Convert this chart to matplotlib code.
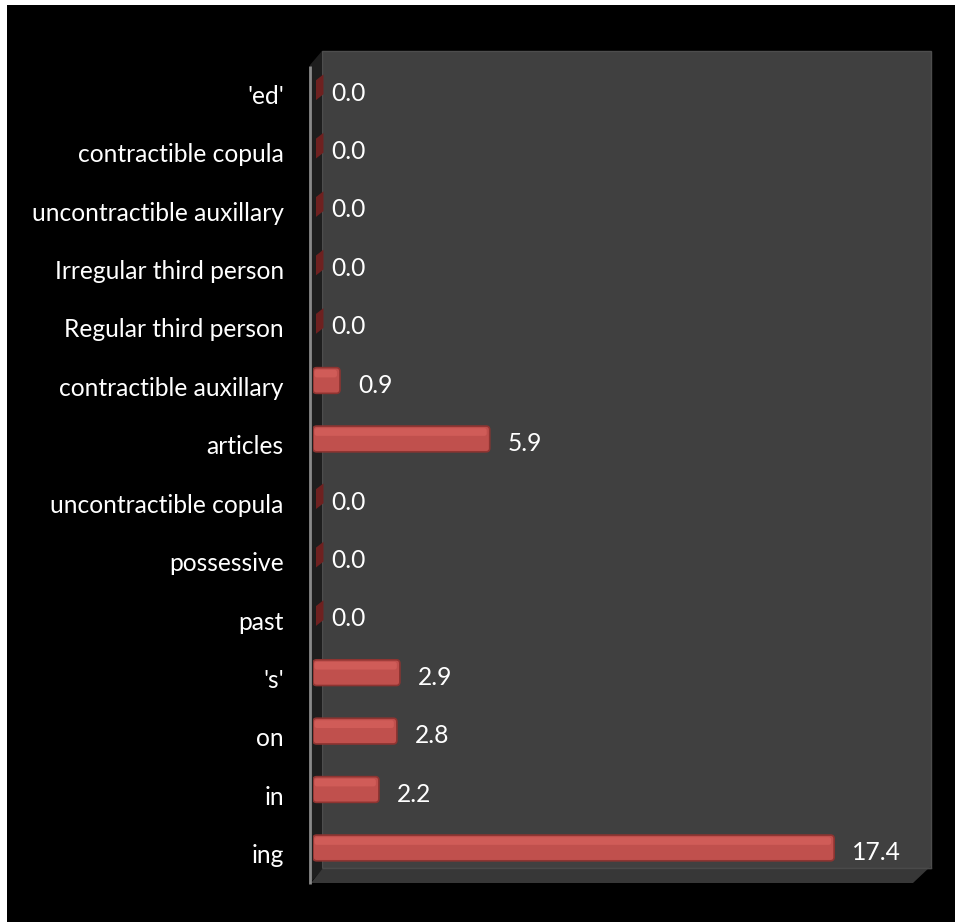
import matplotlib
matplotlib.use("Agg")
import matplotlib.pyplot as plt
from matplotlib.patches import Polygon, Rectangle, FancyBboxPatch

categories = ["ing", "in", "on", "'s'", "past", "possessive", "uncontractible copula",
              "articles", "contractible auxillary", "Regular third person",
              "Irregular third person", "uncontractible auxillary", "contractible copula", "'ed'"]
values = [17.4, 2.2, 2.8, 2.9, 0.0, 0.0, 0.0, 5.9, 0.9, 0.0, 0.0, 0.0, 0.0, 0.0]

W, H = 957, 922
fig = plt.figure(figsize=(W / 100, H / 100), dpi=100, facecolor="white")

# background axes in pixel coordinates
bg = fig.add_axes([0, 0, 1, 1])
bg.set_xlim(0, W)
bg.set_ylim(H, 0)
bg.axis("off")
bg.add_patch(Rectangle((7, 5), 948, 920, facecolor="black", edgecolor="none"))
# back wall
bg.add_patch(Rectangle((322, 51), 609, 817, facecolor="#404040", edgecolor="#4d4d4d", lw=1))
# left wall
bg.add_patch(Polygon([(310, 65), (322, 51), (322, 870), (310, 883)], closed=True,
                     facecolor="#1e1e1e", edgecolor="none"))
bg.plot([310, 310], [66, 884], color="#8a8a8a", lw=2, solid_capstyle="butt")
# floor
bg.add_patch(Polygon([(311, 883), (323, 868), (931, 868), (931, 866), (913, 883)], closed=True,
                     facecolor="#373737", edgecolor="none"))
bg.plot([323, 931], [868, 868], color="#4a4a4a", lw=1)

# data axes (front plane)
ax = fig.add_axes([313 / W, (H - 883) / H, 599 / W, 818 / H])
ax.set_facecolor("none")
ax.set_xlim(0, 20)
ax.set_ylim(-0.5, len(categories) - 0.5)
for s in ax.spines.values():
    s.set_visible(False)
ax.set_xticks([])
ypos = list(range(len(categories)))
ax.set_yticks(ypos)
ax.set_yticklabels(categories)
ax.tick_params(axis="y", length=0, pad=21, labelcolor="white", labelsize=17.7)
for lab in ax.get_yticklabels():
    lab.set_fontfamily("Lato")

bh = 0.44
lift = 0.1
aspect = 30.0 / 58.46
for y, v in zip(ypos, values):
    yb = y + lift
    if v > 0:
        ax.add_patch(FancyBboxPatch((0, yb - bh / 2), v, bh,
                                    boxstyle="round,pad=0,rounding_size=0.12",
                                    mutation_aspect=aspect,
                                    facecolor="#C0504D", edgecolor="#8E3431", linewidth=1.2, zorder=3))
        ax.add_patch(FancyBboxPatch((0.05, yb + bh * 0.12), v - 0.15, bh * 0.3,
                                    boxstyle="round,pad=0,rounding_size=0.08",
                                    mutation_aspect=aspect,
                                    facecolor="#D05C58", edgecolor="none", zorder=4))
    else:
        ax.add_patch(Polygon([(0.1, yb - bh / 2 + 0.02), (0.35, yb - bh / 2 + 0.12),
                              (0.35, yb + bh / 2 + 0.02), (0.1, yb + bh / 2 - 0.08)], closed=True,
                             facecolor="#6E2120", edgecolor="none", zorder=3))
    ax.text(v + 0.6, y + 0.02, f"{v:.1f}", color="white", fontsize=17.7, family="Lato",
            ha="left", va="center", zorder=6)

fig.savefig("out.png", dpi=100, facecolor="white")
